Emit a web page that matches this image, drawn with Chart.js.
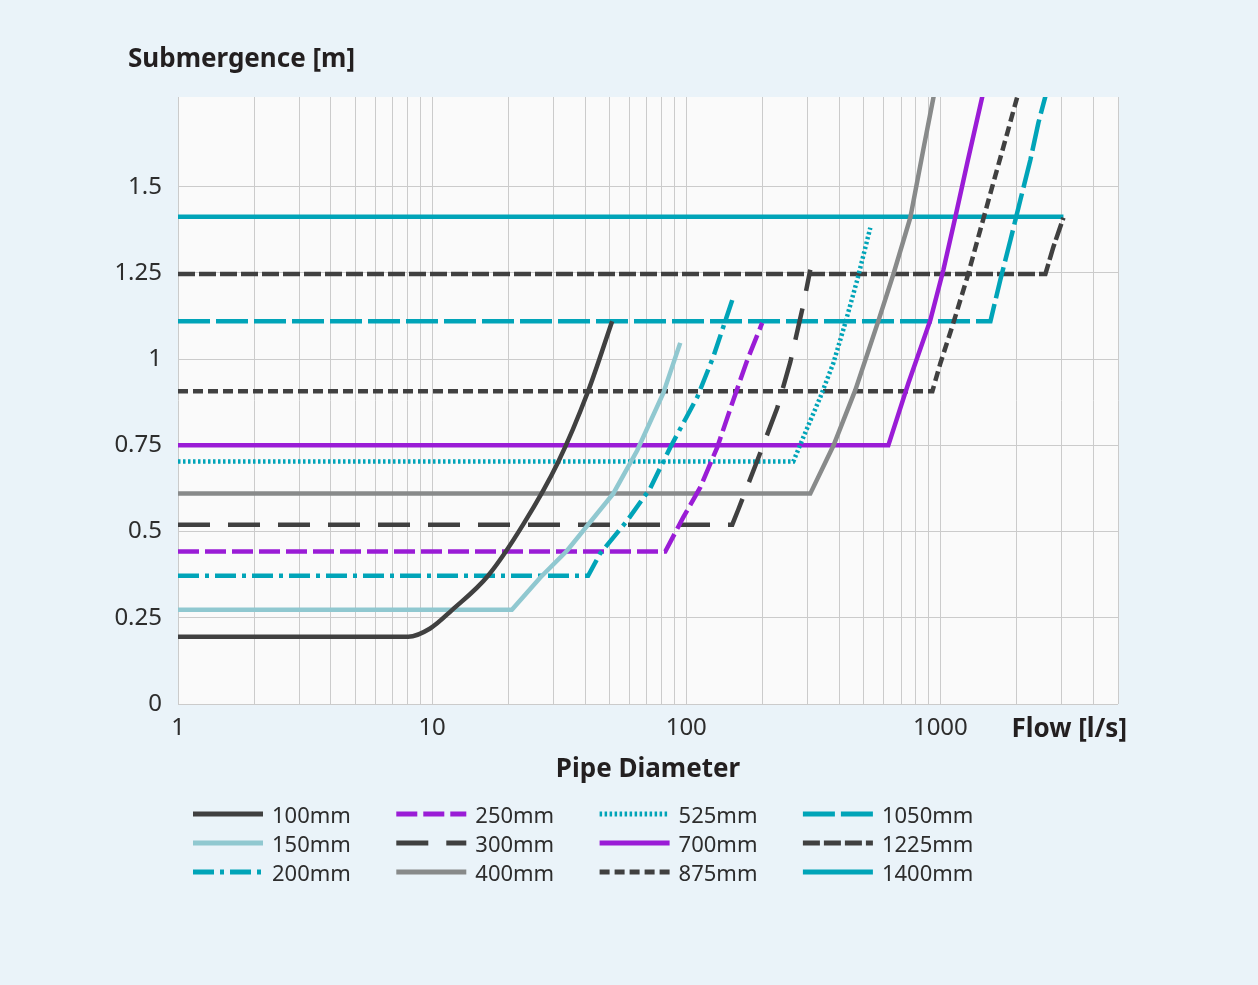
<!DOCTYPE html>
<html>
<head>
<meta charset="utf-8">
<script src="https://cdn.jsdelivr.net/npm/chart.js@4.4.1/dist/chart.umd.min.js"></script>
<style>
  html, body { margin: 0; padding: 0; background: #eaf3f9; }
  #wrap { width: 1258px; height: 985px; position: relative; }
</style>
</head>
<body>
<div id="wrap"><canvas id="chart"></canvas></div>
<script>
// Rohrdurchmesser
const pipeLabels = ['100mm', '150mm', '200mm', '250mm', '300mm', '400mm',
                    '525mm', '700mm', '875mm', '1050mm', '1225mm', '1400mm'];

// Durchfluss [l/s] und Überdeckung [m] je Durchmesser
const flow100 = [1, 8.05, 9.82, 12.0, 16.6, 22.8, 31.3, 41.1, 51.1];
const head100 = [0.195, 0.195, 0.219, 0.273, 0.372, 0.520, 0.701, 0.907, 1.110];
const flow150 = [1, 20.6, 26.6, 34.0, 51.6, 64.1, 81.2, 94.7];
const head150 = [0.273, 0.273, 0.366, 0.445, 0.610, 0.735, 0.901, 1.047];
const flow200 = [1, 41.1, 45.8, 58.6, 72.1, 86.5, 110.5, 127.7, 151.7];
const head200 = [0.372, 0.372, 0.436, 0.532, 0.625, 0.744, 0.890, 1.006, 1.171];
const flow250 = [1, 82.7, 97.3, 113.5, 132.4, 153.1, 173.8, 199];
const head250 = [0.442, 0.442, 0.541, 0.628, 0.744, 0.881, 0.997, 1.105];
const flow300 = [1, 151.7, 160.3, 190.4, 228, 256.6, 288.7, 307.7];
const head300 = [0.520, 0.520, 0.564, 0.706, 0.858, 0.991, 1.157, 1.259];
const flow400 = [1, 307.7, 380, 462.6, 571.5, 655, 762, 857, 941];
const head400 = [0.610, 0.610, 0.750, 0.910, 1.113, 1.249, 1.411, 1.608, 1.762];
const flow525 = [1, 263.8, 288.7, 337, 379, 422.6, 471, 530];
const head525 = [0.703, 0.703, 0.773, 0.890, 0.988, 1.105, 1.230, 1.381];
const flow700 = [1, 624, 748, 913, 1028, 1146, 1277, 1463];
const head700 = [0.750, 0.750, 0.930, 1.113, 1.259, 1.413, 1.570, 1.762];
const flow875 = [1, 930, 1000, 1125, 1277, 1436, 1617, 1836, 2010];
const head875 = [0.907, 0.907, 0.988, 1.105, 1.238, 1.375, 1.512, 1.657, 1.762];
const flow1050 = [1, 1574, 1722, 1888, 2065, 2261, 2432, 2590];
const head1050 = [1.110, 1.110, 1.230, 1.346, 1.462, 1.578, 1.686, 1.762];
const flow1225 = [1, 2590, 2786, 3050];
const head1225 = [1.247, 1.247, 1.326, 1.410];
const flow1400 = [1, 3050];
const head1400 = [1.413, 1.413];

// Achsen
const flowGrid = [1, 2, 3, 4, 5, 6, 7, 8, 9, 10, 20, 30, 40, 50, 60, 70, 80, 90,
                  100, 200, 300, 400, 500, 600, 700, 800, 900, 1000, 2000, 3000, 4000, 5000];
const flowLabels = [1, 10, 100, 1000];
const headTicks = [0, 0.25, 0.5, 0.75, 1, 1.25, 1.5];

const flows = [flow100, flow150, flow200, flow250, flow300, flow400, flow525, flow700, flow875, flow1050, flow1225, flow1400];
const heads = [head100, head150, head200, head250, head300, head400, head525, head700, head875, head1050, head1225, head1400];

const DARK = '#404040', LTEAL = '#90c8d0', TEAL = '#00a4b8', PURPLE = '#9a1cd6', GRAY = '#888a8a';
const styles = [
  {c: DARK,   d: [],            smooth: true},
  {c: LTEAL,  d: []},
  {c: TEAL,   d: [21, 6, 4, 6]},
  {c: PURPLE, d: [21, 6]},
  {c: DARK,   d: [32, 18]},
  {c: GRAY,   d: []},
  {c: TEAL,   d: [2.5, 2.5]},
  {c: PURPLE, d: []},
  {c: DARK,   d: [10, 5]},
  {c: TEAL,   d: [32, 6]},
  {c: DARK,   d: [17, 4]},
  {c: TEAL,   d: []}
];

const datasets = pipeLabels.map((lbl, i) => ({
  label: lbl,
  data: flows[i].map((q, k) => ({x: q, y: heads[i][k]})),
  borderColor: styles[i].c,
  borderDash: styles[i].d,
  borderWidth: 4.5,
  pointRadius: 0,
  tension: 0,
  cubicInterpolationMode: styles[i].smooth ? 'monotone' : 'default',
  fill: false
}));

const textColor = '#2d2d2d';
const FONT = '"Noto Sans", sans-serif';

const extras = {
  id: 'extras',
  beforeDraw(chart) {
    const {ctx, chartArea: a} = chart;
    ctx.save();
    ctx.fillStyle = '#fafafa';
    ctx.fillRect(a.left, a.top, a.right - a.left, a.bottom - a.top);
    ctx.restore();
  },
  afterDraw(chart) {
    const ctx = chart.ctx;
    ctx.save();
    ctx.fillStyle = '#231f20';
    ctx.font = 'bold 26px ' + FONT;
    ctx.textBaseline = 'alphabetic';
    ctx.textAlign = 'left';
    ctx.fillText('Submergence [m]', 128, 67);
    ctx.textAlign = 'right';
    ctx.fillText('Flow [l/s]', 1127, 737);

    // Legende, spaltenweise
    ctx.font = '22px ' + FONT;
    ctx.textAlign = 'left';
    chart.data.datasets.forEach((ds, i) => {
      const x = 193 + Math.floor(i / 3) * 203.3;
      const y = 814 + (i % 3) * 29;
      ctx.strokeStyle = ds.borderColor;
      ctx.lineWidth = 5;
      ctx.setLineDash(ds.borderDash || []);
      ctx.beginPath();
      ctx.moveTo(x, y);
      ctx.lineTo(x + 70, y);
      ctx.stroke();
      ctx.setLineDash([]);
      ctx.fillStyle = textColor;
      ctx.fillText(ds.label, x + 79, y + 9);
    });
    ctx.restore();
  }
};

new Chart(document.getElementById('chart'), {
  type: 'line',
  data: {datasets: datasets},
  options: {
    responsive: true,
    maintainAspectRatio: false,
    animation: false,
    layout: {padding: {top: 97, left: 10, right: 140, bottom: 181}},
    plugins: {
      legend: {display: false},
      tooltip: {enabled: false}
    },
    scales: {
      x: {
        type: 'logarithmic',
        min: 1,
        max: 5000,
        afterBuildTicks: axis => { axis.ticks = flowGrid.map(v => ({value: v})); },
        afterFit: scale => { scale.height = 100; },
        border: {display: false},
        grid: {color: '#cbcbcb', lineWidth: 1, drawTicks: false},
        ticks: {
          autoSkip: false,
          maxRotation: 0,
          padding: 10,
          color: textColor,
          font: {family: FONT, size: 24},
          callback: v => flowLabels.includes(v) ? String(v) : ''
        },
        title: {
          display: true,
          text: 'Pipe Diameter',
          color: '#231f20',
          font: {family: FONT, size: 26, weight: 'bold'},
          padding: {top: 0, bottom: 19}
        }
      },
      y: {
        min: 0,
        max: 1.76,
        afterBuildTicks: axis => { axis.ticks = headTicks.map(v => ({value: v})); },
        afterFit: scale => { scale.width = 168; },
        border: {display: false},
        grid: {color: '#cbcbcb', lineWidth: 1, drawTicks: false},
        ticks: {
          padding: 16,
          color: textColor,
          font: {family: FONT, size: 24},
          callback: v => String(v)
        }
      }
    }
  },
  plugins: [extras]
});
</script>
</body>
</html>
